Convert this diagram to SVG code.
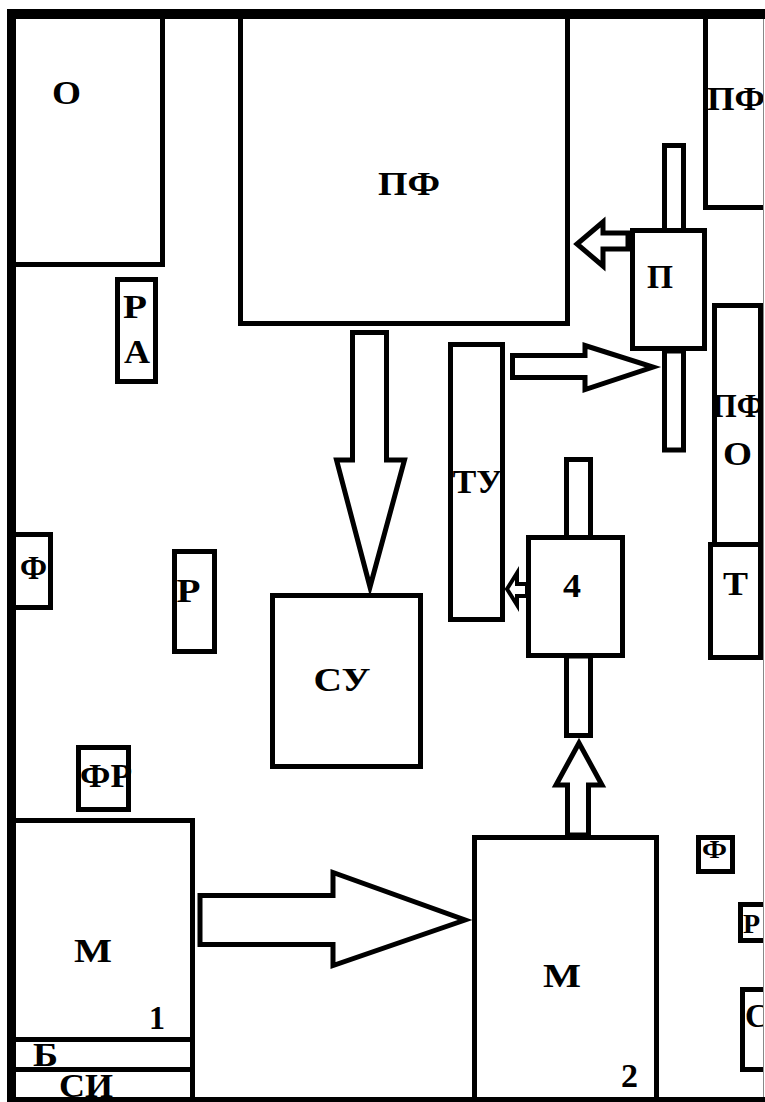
<svg xmlns="http://www.w3.org/2000/svg" width="765" height="1102" viewBox="0 0 765 1102">
<style>
.b{fill:#fff;stroke:#000;stroke-width:5}
.a{fill:#fff;stroke:#000;stroke-width:5;stroke-linejoin:miter}
.t{font-family:"Liberation Serif","Times New Roman",serif;font-weight:bold;font-size:33px;fill:#000}
.m{text-anchor:middle}
</style>
<rect x="0" y="0" width="765" height="1102" fill="#fff"/>
<g id="connectors">
<polygon class="a" points="352.5,332.5 386.5,332.5 386.5,460 404.5,460 370,587 336.5,460 352.5,460"/>
<polygon class="a" points="628,233 603,233 603,222 577,244 603,266 603,249 628,249"/>
<polygon class="a" points="512.5,355.5 585,355.5 585,345.5 653,367 585,389.5 585,377.5 512.5,377.5"/>
<polygon class="a" style="stroke-width:4" points="527,584 517,584 517,573 507,589 517,605 517,596 527,596"/>
<polygon class="a" points="567.5,835 567.5,785 556,785 579,743 602,785 588.5,785 588.5,835"/>
<polygon class="a" points="200,895.5 333,895.5 333,872.5 465,920 333,965.5 333,944.5 200,944.5"/>
</g>
<g id="node-O"><rect class="b" x="13.5" y="16.5" width="149" height="248"/><text class="t m" x="66.5" y="104" textLength="29" lengthAdjust="spacingAndGlyphs">О</text></g>
<g id="node-PF"><rect class="b" x="240.5" y="16.5" width="327" height="307"/><text class="t m" x="409" y="195" textLength="62" lengthAdjust="spacingAndGlyphs">ПФ</text></g>
<g id="node-PF-topright"><rect class="b" x="705.5" y="16.5" width="80" height="191"/><text class="t" x="707" y="110" textLength="58" lengthAdjust="spacingAndGlyphs">ПФ</text></g>
<g id="node-P-bar-top"><rect class="b" x="664.5" y="145.5" width="19" height="85"/></g>
<g id="node-P-bar-bottom"><rect class="b" x="664.5" y="351" width="19" height="99"/></g>
<g id="node-P"><rect class="b" x="632.5" y="230.5" width="72" height="118"/><text class="t m" x="660" y="288" textLength="26" lengthAdjust="spacingAndGlyphs">П</text></g>
<g id="node-RA"><rect class="b" x="117.5" y="279.5" width="38" height="102"/><text class="t m" x="135" y="318" textLength="24" lengthAdjust="spacingAndGlyphs">Р</text><text class="t m" x="137" y="363" textLength="26" lengthAdjust="spacingAndGlyphs">А</text></g>
<g id="node-TU"><rect class="b" x="450.5" y="344.5" width="52" height="275"/><text class="t m" x="477.5" y="493" textLength="50" lengthAdjust="spacingAndGlyphs">ТУ</text></g>
<g id="node-4-bar-top"><rect class="b" x="566.5" y="459.5" width="24" height="78"/></g>
<g id="node-4-bar-bottom"><rect class="b" x="566.5" y="656" width="24" height="79.5"/></g>
<g id="node-4"><rect class="b" x="528.5" y="537.5" width="94" height="118"/><text class="t m" x="572" y="597" textLength="18" lengthAdjust="spacingAndGlyphs">4</text></g>
<g id="node-PFO"><rect class="b" x="714.5" y="305.5" width="46" height="239"/><text class="t" x="712" y="417" textLength="52" lengthAdjust="spacingAndGlyphs">ПФ</text><text class="t m" x="737.5" y="465" textLength="29" lengthAdjust="spacingAndGlyphs">О</text></g>
<g id="node-T"><rect class="b" x="710.5" y="544.5" width="50" height="113"/><text class="t m" x="735.5" y="595" textLength="25" lengthAdjust="spacingAndGlyphs">Т</text></g>
<g id="node-F-left"><rect class="b" x="13.5" y="534.5" width="37" height="73"/><text class="t m" x="33.5" y="579" textLength="27" lengthAdjust="spacingAndGlyphs">Ф</text></g>
<g id="node-R"><rect class="b" x="174.5" y="551.5" width="40" height="100"/><text class="t m" x="188.5" y="602" textLength="24" lengthAdjust="spacingAndGlyphs">Р</text></g>
<g id="node-SU"><rect class="b" x="272.5" y="595.5" width="148" height="171"/><text class="t m" x="342" y="691" textLength="57" lengthAdjust="spacingAndGlyphs">СУ</text></g>
<g id="node-FR"><rect class="b" x="78.5" y="747.5" width="50" height="62"/><text class="t m" x="106" y="787" textLength="52" lengthAdjust="spacingAndGlyphs">ФР</text></g>
<g id="node-M1"><rect class="b" x="13.5" y="820.5" width="179" height="280"/><line x1="16" y1="1039.5" x2="195" y2="1039.5" stroke="#000" stroke-width="5"/><line x1="16" y1="1069.5" x2="195" y2="1069.5" stroke="#000" stroke-width="5"/><text class="t m" x="93" y="962" textLength="38" lengthAdjust="spacingAndGlyphs">М</text><text class="t m" x="157" y="1029" textLength="16" lengthAdjust="spacingAndGlyphs">1</text><text class="t m" x="45.5" y="1066" textLength="25" lengthAdjust="spacingAndGlyphs">Б</text><text class="t m" x="86" y="1097" textLength="54" lengthAdjust="spacingAndGlyphs">СИ</text></g>
<g id="node-M2"><rect class="b" x="474.5" y="837.5" width="182" height="262"/><text class="t m" x="562" y="987" textLength="38" lengthAdjust="spacingAndGlyphs">М</text><text class="t m" x="629.5" y="1087" textLength="17" lengthAdjust="spacingAndGlyphs">2</text></g>
<g id="node-F-right"><rect class="b" x="698.5" y="837.5" width="34" height="34"/><text class="t m" x="714.5" y="858" style="font-size:26px" textLength="25" lengthAdjust="spacingAndGlyphs">Ф</text></g>
<g id="node-R-right"><rect class="b" x="740.5" y="904.5" width="40" height="36"/><text class="t" x="743" y="933" style="font-size:28px">Р</text></g>
<g id="node-C-right"><rect class="b" x="742.5" y="989.5" width="40" height="80"/><text class="t" x="745" y="1027">С</text></g>
<g id="frame">
<rect x="764" y="19" width="1" height="1078" fill="#fff"/>
<line x1="763.5" y1="19" x2="763.5" y2="1097" stroke="#888" stroke-width="1"/>
<rect x="7" y="9" width="758" height="10" fill="#000"/>
<rect x="7" y="9" width="9" height="1093" fill="#000"/>
<rect x="7" y="1097" width="758" height="5" fill="#000"/>
</g>
</svg>
